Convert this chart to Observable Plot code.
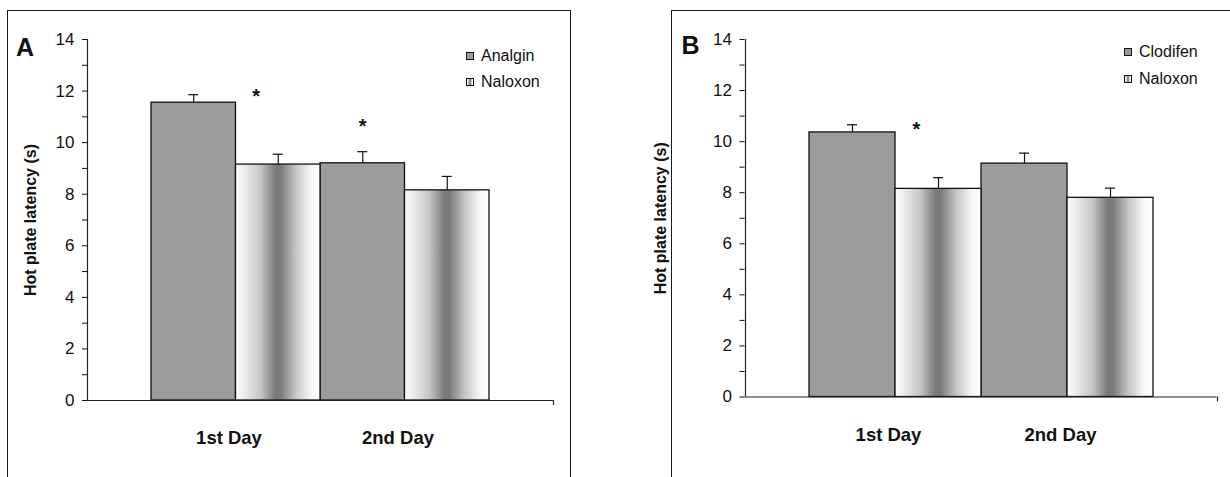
<!DOCTYPE html>
<html><head><meta charset="utf-8">
<script src="https://cdn.jsdelivr.net/npm/d3@7"></script>
<script src="https://cdn.jsdelivr.net/npm/@observablehq/plot@0.6"></script>
<style>
body{margin:0;background:#fff;font-family:"Liberation Sans",Arial,sans-serif;}
#page{position:relative;width:1230px;height:477px;overflow:hidden;background:#fff;}
.box{position:absolute;border:1.5px solid #1a1a1a;box-sizing:border-box;}
.plot{position:absolute;top:0;}
.item{position:absolute;display:flex;align-items:center;height:16px;line-height:16px;white-space:nowrap;font-size:16px;color:#111;}
.sw{width:8px;height:8px;border:1px solid #111;box-sizing:border-box;margin-right:7px;}
</style></head><body>
<div id="page">
  <div class="box" style="left:7px;top:10px;width:564px;height:540px"></div>
  <div class="box" style="left:671px;top:10px;width:620px;height:540px"></div>
  <div id="plotA" class="plot" style="left:0"></div>
  <div id="plotB" class="plot" style="left:630px"></div>
  <div id="legA"></div>
  <div id="legB"></div>
</div>
<script>
// ---- data ----
const days = ["1st Day", "2nd Day"];
const seriesA = ["Analgin", "Naloxon"];
const seriesB = ["Clodifen", "Naloxon"];
const analginMean = [11.55, 9.20];
const analginSE   = [0.31, 0.45];
const naloxonAMean = [9.15, 8.15];
const naloxonASE   = [0.40, 0.54];
const clodifenMean = [10.36, 9.14];
const clodifenSE   = [0.30, 0.41];
const naloxonBMean = [8.15, 7.80];
const naloxonBSE   = [0.44, 0.38];
const yTicks = [0, 2, 4, 6, 8, 10, 12, 14];
const yMinorTicks = [1, 3, 5, 7, 9, 11, 13];
const yLabel = "Hot plate latency (s)";
const starsA = [{day: "1st Day", series: "Naloxon", y: 11.77}, {day: "2nd Day", series: "Analgin", y: 10.64}];
const starsB = [{day: "1st Day", series: "Naloxon", y: 10.48}];

// ---- styles ----
const grayFill = "#9c9c9c";
const gradStops = [[0, "#fbfbfb"], [0.08, "#f1f1f1"], [0.3, "#c4c4c4"], [0.47, "#7a7a7a"], [0.53, "#7a7a7a"], [0.72, "#c8c8c8"], [0.9, "#f8f8f8"], [1, "#ffffff"]];
const cssGrad = "linear-gradient(to right," + gradStops.map(([o, c]) => `${c} ${o * 100}%`).join(",") + ")";

function panel({series, means, ses, stars, letter, gradId, width, height, marginLeft, marginRight, marginTop, marginBottom, letterX, letterDy, labelX, xLabelPad}) {
  const inset = 64;
  const bw = (width - marginLeft - marginRight - 2 * inset) / days.length;
  const half = bw / 2;
  const cap = 5;
  const rows = series.flatMap((s, k) => days.map((d, i) => ({day: d, series: s, k, mean: means[k][i], se: ses[k][i]})));
  const first = rows.filter(r => r.k === 0);
  const second = rows.filter(r => r.k === 1);
  const barStyle = {stroke: "#111", strokeWidth: 1.3};
  const errStyle = {stroke: "#111", strokeWidth: 1.2};
  const starStyle = {text: () => "*", fontSize: 20, fontWeight: "bold", fill: "#111"};
  const svg = Plot.plot({
    width, height, marginLeft, marginRight, marginTop, marginBottom,
    style: {fontFamily: "'Liberation Sans', Arial, sans-serif", color: "#111", background: "transparent", overflow: "visible"},
    x: {type: "band", domain: days, padding: 0, insetLeft: inset, insetRight: inset, label: null},
    y: {domain: [0, 14], label: null},
    marks: [
      Plot.barY(first, {x: "day", y: "mean", fill: grayFill, insetRight: half, ...barStyle}),
      Plot.barY(second, {x: "day", y: "mean", fill: `url(#${gradId})`, insetLeft: half, ...barStyle}),
      Plot.ruleX(first, {x: "day", y1: "mean", y2: d => d.mean + d.se, dx: -half / 2, ...errStyle}),
      Plot.ruleX(second, {x: "day", y1: "mean", y2: d => d.mean + d.se, dx: half / 2, ...errStyle}),
      Plot.tickY(first, {x: "day", y: d => d.mean + d.se, insetLeft: half / 2 - cap, insetRight: bw - half / 2 - cap, ...errStyle}),
      Plot.tickY(second, {x: "day", y: d => d.mean + d.se, insetLeft: half + half / 2 - cap, insetRight: half / 2 - cap, ...errStyle}),
      Plot.text(stars.filter(s => s.series === series[1]), {x: "day", y: "y", dx: half / 2 - 22, ...starStyle}),
      Plot.text(stars.filter(s => s.series === series[0]), {x: "day", y: "y", dx: -half / 2, ...starStyle}),
      Plot.ruleY([0], {stroke: "#222", strokeWidth: 1.2}),
      Plot.ruleX([days[0]], {y1: 0, y2: 14, dx: -(half + inset), stroke: "#222", strokeWidth: 1.2}),
      Plot.ruleX([days[days.length - 1]], {y1: 0, y2: 0, insetTop: 5, dx: half + inset, stroke: "#222", strokeWidth: 1.2}),
      Plot.axisY({anchor: "left", ticks: yTicks, tickSize: 5, tickPadding: 8, fontSize: 17, label: null}),
      Plot.axisY({anchor: "left", ticks: yMinorTicks, tickSize: 5, tickFormat: () => "", label: null}),
      Plot.axisX({anchor: "bottom", tickSize: 0, tickPadding: xLabelPad, fontSize: 18.5, fontWeight: "bold", dx: -7, label: null}),
      Plot.text([yLabel], {text: d => d, frameAnchor: "left", rotate: -90, dx: labelX - marginLeft, fontSize: 16, fontWeight: "bold", textAnchor: "middle", lineAnchor: "middle"}),
      Plot.text([letter], {text: d => d, frameAnchor: "top-left", dx: letterX - marginLeft, dy: letterDy, fontSize: 25, fontWeight: "bold", textAnchor: "middle", lineAnchor: "middle"})
    ]
  });
  const defs = d3.select(svg).insert("defs", ":first-child");
  const g = defs.append("linearGradient").attr("id", gradId).attr("x1", 0).attr("x2", 1).attr("y1", 0).attr("y2", 0);
  gradStops.forEach(([o, c]) => g.append("stop").attr("offset", o).attr("stop-color", c));
  return svg;
}

document.getElementById("plotA").append(panel({
  series: seriesA, means: [analginMean, naloxonAMean], ses: [analginSE, naloxonASE], stars: starsA,
  letter: "A", gradId: "gradA", width: 600, height: 477,
  marginLeft: 87, marginRight: 47, marginTop: 39, marginBottom: 77,
  letterX: 24.5, letterDy: 8, labelX: 30, xLabelPad: 30
}));
document.getElementById("plotB").append(panel({
  series: seriesB, means: [clodifenMean, naloxonBMean], ses: [clodifenSE, naloxonBSE], stars: starsB,
  letter: "B", gradId: "gradB", width: 600, height: 477,
  marginLeft: 114.5, marginRight: 13.5, marginTop: 39, marginBottom: 80.5,
  letterX: 60, letterDy: 6, labelX: 30.5, xLabelPad: 31
}));

function legend(el, names, left, centers) {
  names.forEach((name, k) => {
    const item = document.createElement("div");
    item.className = "item";
    item.style.left = left + "px";
    item.style.top = (centers[k] - 8) + "px";
    const sw = document.createElement("div");
    sw.className = "sw";
    sw.style.background = k === 0 ? grayFill : cssGrad;
    const t = document.createElement("span");
    t.textContent = name;
    item.append(sw, t);
    el.append(item);
  });
}
legend(document.getElementById("legA"), seriesA, 466, [55.5, 81.5]);
legend(document.getElementById("legB"), seriesB, 1124, [52, 78.5]);
</script>
</body></html>
